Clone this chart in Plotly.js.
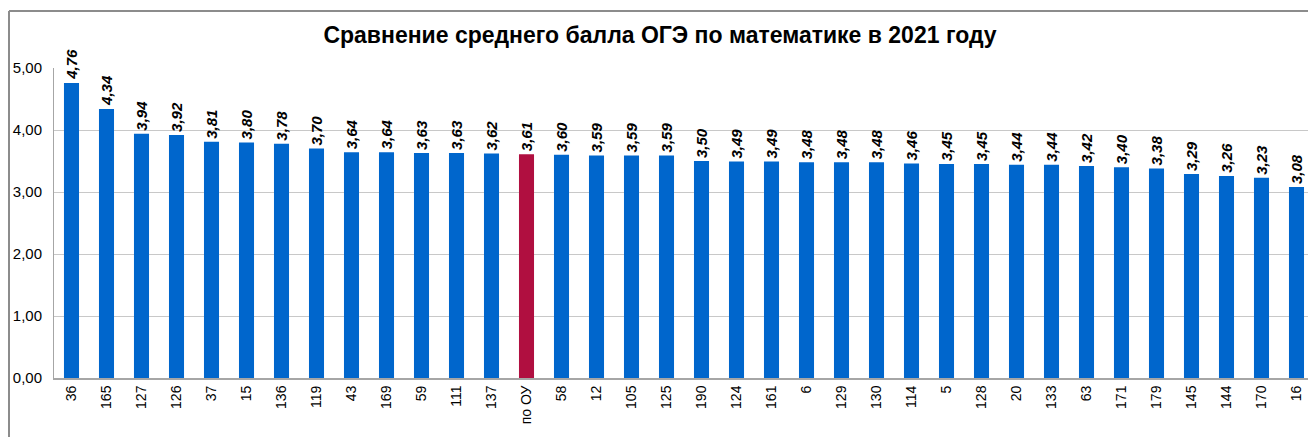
<!DOCTYPE html>
<html>
<head>
<meta charset="utf-8">
<script src="https://cdn.plot.ly/plotly-3.0.1.min.js"></script>
<style>
html,body{margin:0;padding:0;overflow:hidden;background:#fff;}
#chart{width:1316px;height:437px;}
</style>
</head>
<body>
<div id="chart"></div>
<script>
const categories = ["36","165","127","126","37","15","136","119","43","169","59","111","137","по ОУ","58","12","105","125","190","124","161","6","129","130","114","5","128","20","133","63","171","179","145","144","170","16"];
const values = [4.76,4.34,3.94,3.92,3.81,3.80,3.78,3.70,3.64,3.64,3.63,3.63,3.62,3.61,3.60,3.59,3.59,3.59,3.50,3.49,3.49,3.48,3.48,3.48,3.46,3.45,3.45,3.44,3.44,3.42,3.40,3.38,3.29,3.26,3.23,3.08];
const highlight = "по ОУ";
const titleText = "Сравнение среднего балла ОГЭ по математике в 2021 году";
const yTicks = [0,1,2,3,4,5];

const colors = categories.map(c => c === highlight ? "#B00F40" : "#0066CC");

const trace = {
  type: "bar",
  x: categories,
  y: values,
  marker: {color: colors},
  texttemplate: "%{y:.2f}",
  textposition: "outside",
  textangle: -90,
  constraintext: "none",
  cliponaxis: false,
  textfont: {family: "Arial, Liberation Sans, sans-serif", size: 15, color: "#000", weight: "bold", style: "italic"},
  hoverinfo: "none"
};

const layout = {
  width: 1316,
  height: 437,
  margin: {l: 54, r: 2, t: 68, b: 59},
  separators: ", ",
  paper_bgcolor: "#fff",
  plot_bgcolor: "#fff",
  showlegend: false,
  bargap: 0.57,
  title: {
    text: titleText,
    font: {family: "Arial, Liberation Sans, sans-serif", size: 23, color: "#000", weight: "bold"},
    x: 660/1316, xanchor: "center", xref: "container",
    y: 1 - 35/437, yanchor: "middle", yref: "container"
  },
  xaxis: {
    type: "category",
    tickangle: -90,
    tickfont: {family: "Arial, Liberation Sans, sans-serif", size: 14, color: "#000"},
    showline: true, linecolor: "#a6a6a6", linewidth: 2,
    ticks: "", showgrid: false, automargin: false
  },
  yaxis: {
    range: [0, 5],
    tickvals: yTicks,
    tickformat: ".2f",
    tickfont: {family: "Arial, Liberation Sans, sans-serif", size: 15, color: "#000"},
    ticklabelstandoff: 8,
    showgrid: true, gridcolor: "#c8c8c8", gridwidth: 1,
    showline: true, linecolor: "#a6a6a6", linewidth: 1,
    zeroline: false, ticks: "", automargin: false
  },
  shapes: [
    {type: "line", xref: "paper", yref: "paper", x0: (9-54)/1260, x1: 1.05, y0: (378-11)/310, y1: (378-11)/310, line: {color: "#8c8c8c", width: 2}},
    {type: "line", xref: "paper", yref: "paper", x0: (9-54)/1260, x1: (9-54)/1260, y0: -0.3, y1: (378-11)/310, line: {color: "#8c8c8c", width: 2}}
  ]
};

Plotly.newPlot("chart", [trace], layout, {displayModeBar: false, staticPlot: true});
</script>
</body>
</html>
